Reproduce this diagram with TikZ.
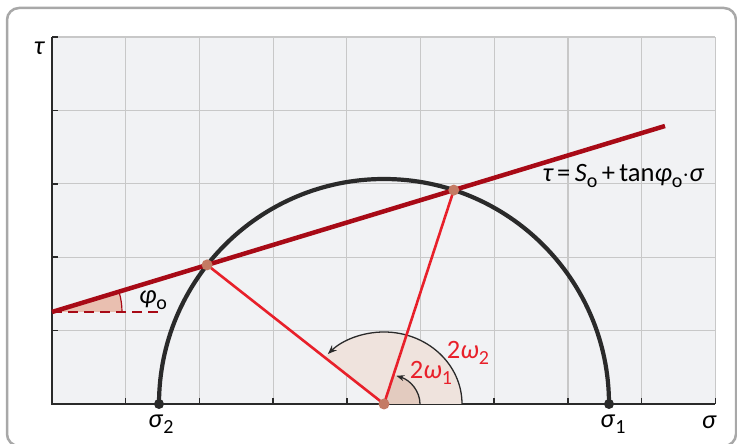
\documentclass[tikz,border=0pt]{standalone}
\usepackage{fontspec}
\setmainfont{Carlito}
\usetikzlibrary{arrows.meta,calc}
\definecolor{gridbg}{HTML}{F1F2F4}
\definecolor{gridln}{HTML}{C8C8C8}
\definecolor{axisc}{HTML}{2A2A2A}
\definecolor{dred}{HTML}{A80A16}
\definecolor{lred}{HTML}{E8202A}
\definecolor{dotc}{HTML}{C47B64}
\definecolor{wlight}{HTML}{EFE3DD}
\definecolor{wdark}{HTML}{E3CBBF}
\definecolor{wphi}{HTML}{E9BFB0}
\definecolor{framec}{HTML}{A8A8A8}
\newcommand{\sbs}[1]{\raisebox{-0.22em}{\fontsize{20}{20}\selectfont\upshape #1}}
\tikzset{
  lbl/.style={inner sep=0pt, font=\fontsize{26.5}{30}\selectfont},
  rlbl/.style={lbl, text=lred},
  dotpt/.style={circle, fill=dotc, inner sep=0pt, minimum size=11pt},
  enddot/.style={circle, fill=axisc, inner sep=0pt, minimum size=10pt},
}
\begin{document}
\begin{tikzpicture}[x=1pt,y=1pt]
\useasboundingbox (0,0) rectangle (737,444);
\clip (0,0) rectangle (737,444);
\draw[framec, line width=2.5pt, rounded corners=12pt] (7,-2) rectangle (736,436);
% plot area
\fill[gridbg] (52,40) rectangle (715.3,407);
\foreach \i in {1,...,9} \draw[gridln, line width=1.2pt] ({52+73.7*\i},40) -- ({52+73.7*\i},407);
\foreach \j in {1,...,5} \draw[gridln, line width=1.2pt] (52,{40+73.4*\j}) -- (715.3,{40+73.4*\j});
% ticks
\foreach \i in {1,...,9} \draw[axisc, line width=1.5pt] ({52+73.7*\i},40) -- ({52+73.7*\i},46);
\foreach \j in {1,...,5} \draw[axisc, line width=1.5pt] (52,{40+73.4*\j}) -- (58,{40+73.4*\j});
\draw[axisc, line width=2.2pt] (52,407) -- (52,40) -- (715.3,40);
% points
\coordinate (C) at (384,40);
\coordinate (S2) at (159,40);
\coordinate (S1) at (609,40);
\coordinate (P1) at (453.8,253.9);
\coordinate (P2) at (207.1,179.1);
\coordinate (L0) at (52,132);
\coordinate (L1) at (665,318);
\coordinate (D1) at (160,132);
% angle wedges
\fill[wlight] (C) -- ++(78,0) arc[start angle=0, end angle=139.5, x radius=78, y radius=72] -- cycle;
\fill[wdark] (C) -- ++(36,0) arc[start angle=0, end angle=74.8, x radius=36, y radius=30] -- cycle;
\draw[axisc, line width=1.3pt, -{Stealth[length=9pt,width=7pt]}] ($(C)+(78,0)$) arc[start angle=0, end angle=136, x radius=78, y radius=72];
\draw[axisc, line width=1.3pt, -{Stealth[length=8pt,width=6pt]}] ($(C)+(36,0)$) arc[start angle=0, end angle=70, x radius=36, y radius=30];
% phi wedge
\fill[wphi] (L0) -- ++(70,0) arc[start angle=0, end angle=16.88, radius=70] -- cycle;
\draw[dred, line width=1.2pt] ($(L0)+(70,0)$) arc[start angle=0, end angle=16.88, radius=70];
\draw[dred, line width=2.6pt, dash pattern=on 10pt off 6pt] (L0) -- (D1);
% Mohr semicircle
\draw[axisc, line width=4.2pt] (S1) arc[start angle=0, end angle=180, radius=225];
% radial lines
\draw[lred, line width=2.6pt] (C) -- (P1);
\draw[lred, line width=2.6pt] (C) -- (P2);
% failure line
\draw[dred, line width=4.5pt] (L0) -- (L1);
% dots
\node[dotpt] (n1) at (P1) {};
\node[dotpt] (n2) at (P2) {};
\node[dotpt] (nc) at (C) {};
\node[enddot] (ns1) at (S1) {};
\node[enddot] (ns2) at (S2) {};
% labels
\node[lbl] (tau) at (39,396) {\itshape τ};
\node[lbl] (sig) at (709,22) {\itshape σ};
\node[lbl] (sig2) at (161,20) {\itshape σ\/\sbs{2}};
\node[lbl] (sig1) at (613,20) {\itshape σ\/\sbs{1}};
\node[lbl] (phi) at (153,144) {\itshape φ\/\sbs{o}};
\node[rlbl] (om2) at (468,91) {2\itshape ω\/\sbs{2}};
\node[rlbl] (om1) at (431,71) {2\itshape ω\/\sbs{1}};
\node[lbl] (form) at (623,268) {\itshape τ\upshape\,=\,\itshape S\/\sbs{o}\upshape\,+\,tan\itshape φ\/\sbs{o}\upshape$\cdot$\itshape σ};
\end{tikzpicture}
\end{document}
